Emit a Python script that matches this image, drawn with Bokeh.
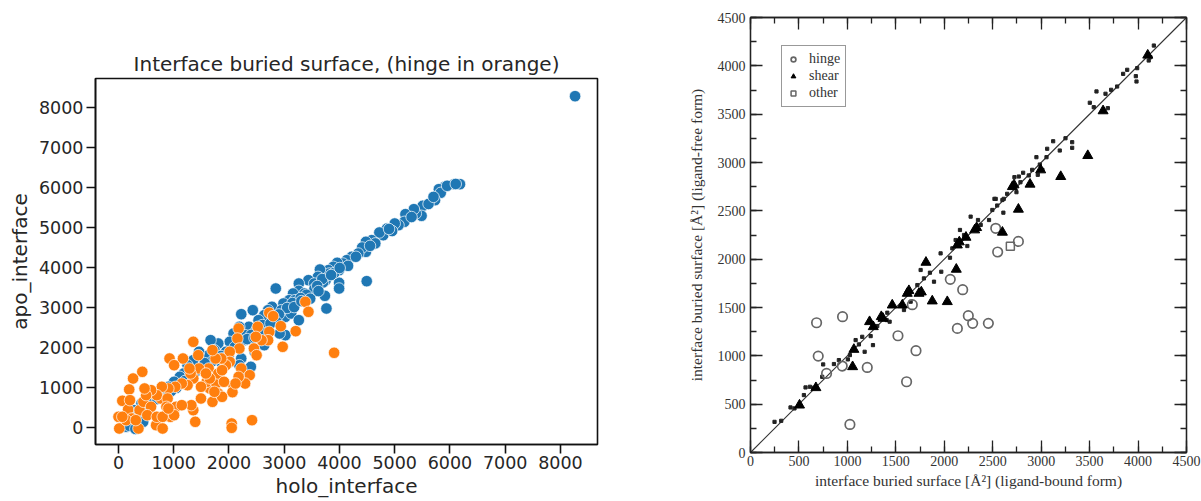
from bokeh.plotting import figure
from bokeh.layouts import row, column
from bokeh.models import (FixedTicker, SingleIntervalTicker, LinearAxis, Range1d,
                          Legend, LegendItem, CustomJSTickFormatter)
from bokeh.embed import file_html
from bokeh.resources import INLINE

# ---------------- left panel data (holo vs apo interface) ----------------
blue_x = [8264, 6181, 6076, 5903, 5799, 5833, 5729, 5507, 5486, 5382, 5347, 5194, 5174, 5069, 5000,
          4861, 4792, 4722, 4583, 4479, 4479, 4410, 4340, 4222, 4132, 4063, 3993, 3958, 3889, 3799,
          3819, 3646, 3750, 3611, 3702, 3438, 3542, 3993, 3993, 4493, 3736, 3764, 3264, 3264, 3368,
          3160, 3090, 3194, 2986, 2847, 2778, 2951, 3021, 3125, 3264, 2708, 2639, 2431, 2535, 2222,
          2361, 2188, 2292, 2083, 2708, 3021, 2014, 1806, 1667, 1736, 1632, 1458, 1354, 1250, 1181,
          1111, 1007, 903, 764, 625, 417, 278, 208, 139, 2222, 2014, 1875, 2188, 2465, 2222, 2396,
          2639, 2917, 5612, 5305, 4953, 4648, 4297, 4155, 3905, 3688, 3547, 3402, 3296, 3148, 3052,
          2903, 2796, 2604, 2497, 2403, 2298, 2104, 1948, 1853, 1702, 1548, 1405, 1296, 1203, 1048,
          952, 847, 703, 548, 452, 348, 252, 196, 305, 447, 5948, 6105, 5702, 4897, 4553, 4004,
          3848, 3597, 3180, 3310, 2860, 2580, 2330, 1990, 1560, 2750, 3470, 3620, 2460, 1890]
blue_y = [8283, 6083, 6083, 6017, 5958, 5867, 5683, 5542, 5292, 5350, 5458, 5333, 5142, 5058, 5100,
          4975, 4808, 4875, 4683, 4642, 4392, 4500, 4350, 4267, 4183, 4100, 3933, 4117, 4017, 3933,
          3850, 3950, 3683, 3767, 3625, 3683, 3600, 3617, 3475, 3658, 3292, 2975, 3600, 3417, 3350,
          3350, 3183, 3183, 3100, 3475, 3017, 2933, 2767, 2850, 2683, 2933, 2808, 2933, 2683, 2833,
          2517, 2517, 2308, 2350, 2517, 2308, 2142, 2100, 2183, 1933, 1808, 1892, 1683, 1558, 1350,
          1267, 1142, 1017, 850, 683, 600, 433, 183, 17, 1725, 1642, 1600, 1558, 1892, 1267, 1517,
          2058, 2350, 5588, 5262, 4912, 4603, 4268, 4041, 3862, 3712, 3463, 3318, 3236, 3112, 2988,
          2827, 2714, 2561, 2433, 2315, 2187, 2012, 1893, 1788, 1662, 1487, 1411, 1238, 1163, 991,
          911, 788, 712, 487, 395, 288, 212, 42, -35, 142, 6042, 6088, 5765, 4963, 4541, 3988,
          3812, 3538, 3010, 3160, 2640, 2390, 2210, 1780, 1610, 2600, 3220, 3410, 2240, 1720]

orange_x = [3382, 3438, 3208, 2972, 3903, 2729, 2799, 2938, 2729, 2708, 2590, 2521, 2486, 2451, 2500,
            2174, 2153, 2188, 2014, 2014, 2222, 2375, 2292, 2081, 2063, 2174, 1944, 1861, 1757, 1701,
            1632, 1458, 1354, 1167, 924, 1007, 1444, 1354, 1306, 1250, 1146, 1028, 903, 785, 625,
            764, 694, 889, 868, 938, 1042, 1354, 1493, 1653, 1597, 1771, 1806, 1701, 1875, 2118,
            2049, 2049, 2417, 1389, 1319, 431, 264, 194, 69, 174, 0, 243, 382, 451, 590,
            500, 590, 521, 681, 799, 694, 799, 14, 361, 139, 313, 1007, 1146, 1806, 1653,
            1910, 1736, 1875, 903, 1493, 1583, 1285, 472, 208, 69]
orange_y = [3142, 2892, 2408, 2017, 1867, 2867, 2783, 2533, 2392, 2183, 2183, 2517, 2267, 1975, 1808,
            2475, 2225, 1975, 1892, 1642, 1475, 1308, 1100, 1058, 883, 1267, 1558, 1725, 1725, 1933,
            1475, 1475, 2142, 1725, 1725, 1558, 1808, 1225, 1350, 1058, 1100, 1017, 975, 1017, 850,
            725, 808, 725, 517, 267, 517, 433, 725, 975, 1142, 1100, 850, 642, 767, 1100,
            100, -8, 183, 142, 558, 1392, 1225, 950, 667, 450, 267, 225, 433, 642, 933,
            808, 517, 308, 58, -25, 267, 267, -25, -25, 183, 183, 308, 558, 1350, 1225,
            1142, 892, 1433, 475, 1017, 1350, 1475, 975, 683, 267]

left_ticks = [0, 1000, 2000, 3000, 4000, 5000, 6000, 7000, 8000]

# ---------------- right panel data (ligand-bound vs ligand-free) ----------------
hinge_x = [682, 950, 699, 785, 947, 1205, 1026, 1522, 1670, 1708, 1611, 2062, 2190, 2135, 2248,
           2293, 2455, 2531, 2551, 2765]
hinge_y = [1342, 1405, 997, 818, 894, 880, 290, 1208, 1529, 1053, 732, 1791, 1684, 1284, 1415,
           1336, 1336, 2319, 2074, 2184]

shear_x = [506, 675, 1067, 1054, 1229, 1267, 1350, 1367, 1463, 1567, 1618, 1635, 1739, 1763, 1811,
           1876, 2124, 2031, 2135, 2155, 2224, 2314, 2334, 2600, 2703, 2720, 2765, 2885, 3202, 3481,
           3639, 4100, 2995]
shear_y = [490, 670, 1066, 887, 1353, 1301, 1405, 1387, 1525, 1525, 1646, 1674, 1646, 1660, 1967,
           1567, 1895, 1560, 2146, 2178, 2226, 2302, 2326, 2278, 2750, 2768, 2516, 2775, 2854, 3071,
           3534, 4110, 2923]

other_x = [2682]
other_y = [2133]

dots_x = [4163, 4128, 4110, 3888, 3846, 3991, 3977, 3984, 3784, 3722, 3664, 3571, 3502, 3543, 3688,
          3251, 3320, 3320, 3192, 3124, 3062, 3055, 2951, 2986, 3013, 2907, 2965, 2872, 2814, 2769,
          2786, 2724, 2745, 2649, 2614, 2518, 2546, 248, 317, 413, 454, 551, 568, 613, 647,
          740, 750, 861, 912, 1005, 1026, 1085, 1119, 1178, 1153, 1264, 1240, 1308, 1405, 1436,
          1412, 1584, 1653, 1629, 1722, 1756, 1790, 1852, 1894, 1969, 1962, 2059, 2083, 2117, 2204,
          2162, 2238, 2272, 2348, 2376, 2462, 2496, 2531, 2610, 2600]
dots_y = [4210, 4089, 4055, 3959, 3917, 3976, 3893, 3838, 3786, 3752, 3711, 3735, 3618, 3572, 3562,
          3251, 3210, 3152, 3124, 3220, 3142, 3055, 3055, 2979, 2924, 2924, 2873, 2866, 2894, 2855,
          2796, 2848, 2693, 2676, 2624, 2624, 2555, 317, 328, 466, 456, 594, 673, 680, 669,
          783, 911, 915, 956, 963, 1008, 1163, 1118, 1042, 1197, 1111, 1204, 1308, 1370, 1353,
          1446, 1474, 1560, 1681, 1732, 1888, 1801, 1860, 1767, 1870, 2060, 2015, 2112, 2198, 2250,
          2302, 2136, 2440, 2405, 2354, 2405, 2509, 2623, 2481, 2612]

diag_x = [0, 4500]
diag_y = [0, 4500]

# ======================= left figure =======================
p1 = figure(width=640, height=501, x_range=Range1d(-416, 8670), y_range=Range1d(-425, 8725),
            output_backend="svg", toolbar_location=None,
            min_border_left=95, min_border_right=43, min_border_top=78, min_border_bottom=57,
            title="Interface buried surface, (hinge in orange)")
p1.title.text_font = "DejaVu Sans"
p1.title.text_font_size = "20px"
p1.title.text_font_style = "normal"
p1.title.text_color = "#262626"
p1.title.align = "center"
p1.title.standoff = 5
p1.grid.visible = False
p1.outline_line_color = "#111111"
p1.outline_line_width = 1.6
p1.background_fill_color = "white"
p1.border_fill_color = "white"

p1.scatter(blue_x, blue_y, marker="circle", size=11.5, fill_color="#1f77b4",
           line_color="white", line_width=0.7)
p1.scatter(orange_x, orange_y, marker="circle", size=11.5, fill_color="#ff7f0e",
           line_color="white", line_width=0.7)

for ax in (p1.xaxis[0], p1.yaxis[0]):
    ax.ticker = FixedTicker(ticks=left_ticks)
    ax.minor_tick_line_color = None
    ax.major_tick_out = 9
    ax.major_tick_in = 0
    ax.major_tick_line_width = 1.6
    ax.major_tick_line_color = "#111111"
    ax.axis_line_color = "#111111"
    ax.axis_line_width = 1.6
    ax.major_label_text_font = "DejaVu Sans"
    ax.major_label_text_font_size = "17.5px"
    ax.major_label_text_color = "#262626"
    ax.axis_label_text_font = "DejaVu Sans"
    ax.axis_label_text_font_size = "20px"
    ax.axis_label_text_font_style = "normal"
    ax.axis_label_text_color = "#262626"
p1.xaxis.axis_label = "holo_interface"
p1.yaxis.axis_label = "apo_interface"
p1.xaxis.major_label_standoff = 2
p1.xaxis.axis_label_standoff = 2
p1.yaxis.major_label_standoff = 3
p1.yaxis.axis_label_standoff = 4

# ======================= right figure =======================
serif = "Liberation Serif"
p2 = figure(width=561, height=501, x_range=Range1d(0, 4500), y_range=Range1d(0, 4500),
            output_backend="svg", toolbar_location=None,
            min_border_left=110, min_border_right=15, min_border_top=17, min_border_bottom=49)
p2.grid.visible = False
p2.outline_line_color = "#222222"
p2.outline_line_width = 1.3

p2.line(diag_x, diag_y, line_color="#333333", line_width=1.1)
p2.scatter(dots_x, dots_y, marker="square", size=3.2, fill_color="#222222", line_color="#222222")
r_h = p2.scatter(hinge_x, hinge_y, marker="circle", size=9.5, fill_color=None,
                 line_color="#666666", line_width=1.7)
r_s = p2.scatter(shear_x, shear_y, marker="triangle", size=10, fill_color="black",
                 line_color="black")
r_o = p2.scatter(other_x, other_y, marker="square", size=8, fill_color=None,
                 line_color="#666666", line_width=1.5)

p2.add_layout(LinearAxis(), "right")
p2.add_layout(LinearAxis(), "above")
for ax in p2.axis:
    ax.ticker = SingleIntervalTicker(interval=500, num_minor_ticks=2)
    ax.major_tick_in = 12
    ax.major_tick_out = 0
    ax.minor_tick_in = 6
    ax.minor_tick_out = 0
    ax.major_tick_line_color = "#222222"
    ax.minor_tick_line_color = "#222222"
    ax.major_tick_line_width = 1.3
    ax.minor_tick_line_width = 1.3
    ax.axis_line_color = "#222222"
    ax.axis_line_width = 1.3
    ax.major_label_text_font = serif
    ax.major_label_text_font_size = "14px"
    ax.major_label_text_color = "#333333"
    ax.axis_label_text_font = serif
    ax.axis_label_text_font_size = "15.5px"
    ax.axis_label_text_font_style = "normal"
    ax.axis_label_text_color = "#333333"
p2.right[0].formatter = CustomJSTickFormatter(code="return ''")
p2.above[0].formatter = CustomJSTickFormatter(code="return ''")
p2.right[0].major_label_standoff = 0
p2.above[0].major_label_standoff = 0
p2.below[0].axis_label = "interface buried surface [Å²] (ligand-bound form)"
p2.left[0].axis_label = "interface buried surface [Å²] (ligand-free form)"
p2.below[0].major_label_standoff = 3
p2.below[0].axis_label_standoff = 3
p2.left[0].major_label_standoff = 5
p2.left[0].axis_label_standoff = 10

legend = Legend(items=[LegendItem(label="hinge", renderers=[r_h]),
                       LegendItem(label="shear", renderers=[r_s]),
                       LegendItem(label="other", renderers=[r_o])],
                location=(31, 345))
legend.label_text_font = serif
legend.label_text_font_size = "14px"
legend.label_text_color = "#333333"
legend.border_line_color = "#333333"
legend.border_line_width = 1.2
legend.padding = 5
legend.spacing = 1
legend.margin = 0
legend.label_height = 16
legend.glyph_height = 16
legend.glyph_width = 12
legend.label_standoff = 10
legend.background_fill_alpha = 1
p2.add_layout(legend, "center")

layout = row(column(p1), column(p2))
open("out.html", "w").write(file_html(layout, INLINE))
